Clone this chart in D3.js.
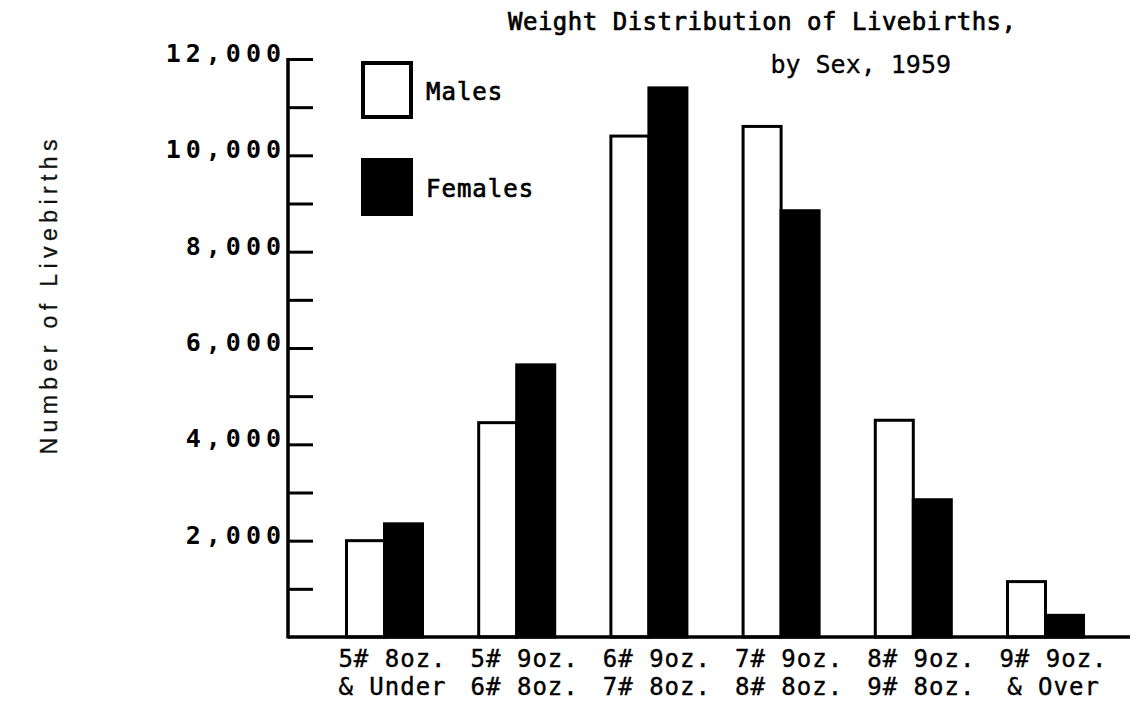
<!DOCTYPE html>
<html>
<head>
<meta charset="utf-8">
<script src="https://cdn.jsdelivr.net/npm/d3@7"></script>
<style>
  html, body { margin: 0; padding: 0; background: #fff; }
  svg { display: block; }
</style>
</head>
<body>
<svg id="chart" width="1135" height="710"></svg>
<script>
// ---- Data ----
const categories = ["5# 8oz.|& Under", "5# 9oz.|6# 8oz.", "6# 9oz.|7# 8oz.", "7# 9oz.|8# 8oz.", "8# 9oz.|9# 8oz.", "9# 9oz.|& Over"];
const seriesNames = ["Males", "Females"];
const males   = [2000, 4450, 10400, 10600, 4500, 1150];
const females = [2350, 5650, 11400, 8850, 2850, 450];
const yTickLabels = [2000, 4000, 6000, 8000, 10000, 12000];
const yMinorTicks = [1000, 3000, 5000, 7000, 9000, 11000];
const titleLines = ["Weight Distribution of Livebirths,", "by Sex, 1959"];
const yAxisTitle = "Number of Livebirths";

// ---- Layout ----
const svg = d3.select("#chart");
const axisX = 288, baseY = 637, topY = 59, rightX = 1130;
const mono = "'DejaVu Sans Mono', monospace";

const y = d3.scaleLinear().domain([0, 12000]).range([baseY, topY]);
const x = d3.scaleBand().domain(categories).range([318.4, 1111.6])
  .paddingInner(0.425).paddingOuter(0.2125);
const xs = d3.scaleBand().domain(seriesNames).range([0, x.bandwidth()]);
const fills = { Males: "#fff", Females: "#000" };

// Bars
const data = categories.map((c, i) => ({ cat: c, vals: [
  { s: "Males", v: males[i] }, { s: "Females", v: females[i] } ] }));

const g = svg.selectAll("g.grp").data(data).join("g")
  .attr("class", "grp")
  .attr("transform", d => `translate(${x(d.cat)},0)`);

g.selectAll("rect").data(d => d.vals).join("rect")
  .attr("x", d => xs(d.s))
  .attr("y", d => y(d.v))
  .attr("width", xs.bandwidth())
  .attr("height", d => baseY - y(d.v))
  .attr("fill", d => fills[d.s])
  .attr("stroke", "#000")
  .attr("stroke-width", 3);

// Y axis (ticks pointing inward / right)
const yAxis = d3.axisRight(y)
  .tickValues([...yTickLabels, ...yMinorTicks])
  .tickSize(25)
  .tickFormat("");
const ya = svg.append("g").attr("transform", `translate(${axisX},0)`).call(yAxis);
ya.select(".domain").remove();
ya.selectAll(".tick line").attr("stroke", "#000").attr("stroke-width", 3);
svg.append("line").attr("x1", axisX).attr("x2", axisX)
  .attr("y1", y(12000) - 1).attr("y2", baseY + 1.5)
  .attr("stroke", "#000").attr("stroke-width", 3.5);

// Y tick labels
svg.selectAll("text.ytl").data(yTickLabels).join("text")
  .attr("class", "ytl")
  .attr("x", axisX - 2)
  .attr("y", d => y(d) + 3)
  .attr("text-anchor", "end")
  .attr("font-family", mono)
  .attr("font-size", 25)
  .attr("font-weight", "bold")
  .attr("letter-spacing", 5)
  .text(d => d3.format(",")(d));

// Baseline
svg.append("line").attr("x1", axisX).attr("x2", rightX)
  .attr("y1", baseY).attr("y2", baseY)
  .attr("stroke", "#000").attr("stroke-width", 3.5);

// X labels
const xl = svg.selectAll("text.xl").data(categories).join("text")
  .attr("class", "xl")
  .attr("text-anchor", "middle")
  .attr("font-family", mono)
  .attr("font-size", 24)
  .attr("letter-spacing", 1)
  .attr("stroke", "#000").attr("stroke-width", 0.4);
xl.each(function(d) {
  const parts = d.split("|");
  const cx = x(d) + x.bandwidth() / 2 + 8;
  d3.select(this).selectAll("tspan").data(parts).join("tspan")
    .attr("x", cx)
    .attr("y", (p, i) => 667 + i * 28)
    .text(p => p);
});

// Legend
const leg = svg.append("g");
const legY = [63, 160];
seriesNames.forEach((s, i) => {
  leg.append("rect").attr("x", 363).attr("y", legY[i]).attr("width", 48).attr("height", 54)
    .attr("fill", fills[s]).attr("stroke", "#000").attr("stroke-width", 4);
  leg.append("text").attr("x", 426).attr("y", legY[i] + 37)
    .attr("font-family", mono).attr("font-size", 24)
    .attr("letter-spacing", 1)
    .attr("stroke", "#000").attr("stroke-width", 0.7)
    .text(s);
});

// Title
svg.append("text").attr("x", 508).attr("y", 30)
  .attr("font-family", mono).attr("font-size", 24)
  .attr("stroke", "#000").attr("stroke-width", 0.7)
  .attr("textLength", 508).attr("lengthAdjust", "spacing")
  .text(titleLines[0]);
svg.append("text").attr("x", 951).attr("y", 73)
  .attr("text-anchor", "end")
  .attr("font-family", mono).attr("font-size", 25)
  .attr("stroke", "#000").attr("stroke-width", 0.3)
  .text(titleLines[1]);

// Y axis title
svg.append("text")
  .attr("transform", "translate(57,297) rotate(-90)")
  .attr("text-anchor", "middle")
  .attr("font-family", "'Liberation Sans', Arial, sans-serif")
  .attr("font-size", 23)
  .attr("fill", "#111")
  .attr("stroke", "#111").attr("stroke-width", 0.3)
  .attr("textLength", 315).attr("lengthAdjust", "spacing")
  .text(yAxisTitle);
</script>
</body>
</html>
